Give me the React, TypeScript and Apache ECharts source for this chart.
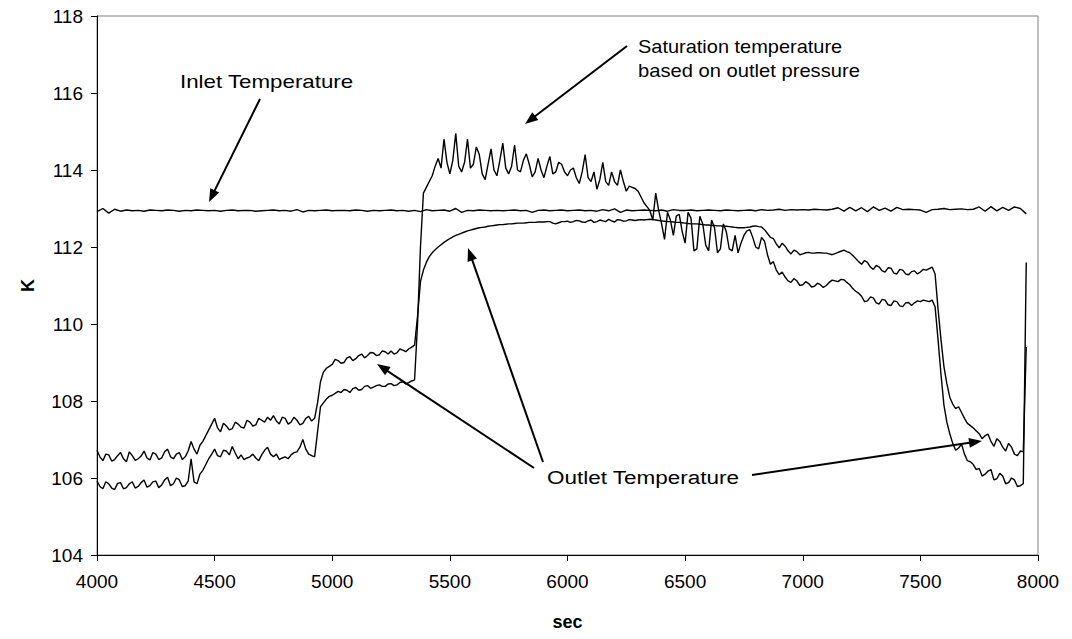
import React, { useEffect, useRef } from "react";
import * as echarts from "echarts";

// Sampling grid of the recorded traces (seconds): main samples every 25 s
// from 4000 s, plus intermediate samples half-way between them.
const T_START = 4000;
const T_STEP = 25;

const xTicks = { min: 4000, max: 8000, interval: 500 };
const yTicks = { min: 104, max: 118, interval: 2 };

// Inlet temperature (K), one value every 25 s from 4000 s to 7950 s
const inletTemp = [
  112.92, 113.0, 112.88, 112.98, 112.93, 112.96, 112.94, 112.95, 112.93, 112.96,
  112.95, 112.94, 112.96, 112.95, 112.93, 112.95, 112.94, 112.96, 112.95, 112.94,
  112.95, 112.93, 112.95, 112.96, 112.94, 112.95, 112.95, 112.93, 112.94, 112.95,
  112.96, 112.94, 112.95, 112.93, 112.97, 112.91, 112.95, 112.94, 112.95, 112.96,
  112.94, 112.95, 112.95, 112.94, 112.96, 112.95, 112.93, 112.95, 112.94, 112.95,
  112.96, 112.94, 112.95, 112.93, 112.95, 112.92, 112.97, 112.94, 112.95, 112.96,
  112.93, 113.0, 112.9, 112.95, 112.94, 112.96, 112.95, 112.94, 112.95, 112.94,
  112.95, 112.96, 112.94, 112.95, 112.9, 112.95, 112.96, 112.94, 112.95, 112.96,
  112.94, 112.95, 112.96, 112.94, 112.95, 112.93, 112.97, 112.94, 112.99, 112.9,
  112.96, 112.94, 112.95, 112.96, 112.95, 112.94, 112.96, 112.93, 112.97, 112.95,
  112.95, 112.96, 112.94, 112.95, 112.96, 112.95, 112.94, 112.96, 112.95, 112.94,
  112.95, 112.96, 112.94, 112.97, 112.95, 112.96, 112.98, 112.95, 112.97, 112.96,
  112.97, 112.96, 112.98, 112.97, 112.96, 112.98, 113.02, 112.93, 113.03, 112.94,
  113.02, 112.92, 113.04, 112.95, 113.01, 112.93, 113.03, 112.97, 112.98, 112.97,
  112.96, 112.9, 112.97, 112.98, 113.0, 112.97, 112.98, 112.99, 112.97, 112.98,
  113.04, 112.93, 113.05, 112.94, 113.03, 112.95, 113.04, 113.0, 112.86,
];

// Outlet temperature (K), at 4000, 4025, ... 7950 s
const outletTemp = [
  106.72, 106.45, 106.6, 106.48, 106.66, 106.42, 106.58, 106.5, 106.7, 106.47,
  106.62, 106.52, 106.75, 106.5, 106.66, 106.55, 106.95, 106.62, 106.95, 107.25,
  107.55, 107.2, 107.35, 107.28, 107.4, 107.3, 107.45, 107.38, 107.5, 107.58,
  107.62, 107.4, 107.55, 107.45, 107.5, 107.42, 107.6, 107.55, 108.5, 108.85,
  108.95, 109.05, 109.0, 109.15, 109.1, 109.22, 109.18, 109.25, 109.2, 109.28,
  109.3, 109.25, 109.32, 109.35, 109.45, 111.1, 111.6, 111.85, 112.0, 112.12,
  112.22, 112.3, 112.36, 112.42, 112.46, 112.5, 112.52, 112.55, 112.57, 112.58,
  112.6, 112.61, 112.62, 112.63, 112.64, 112.65, 112.65, 112.66, 112.6, 112.66,
  112.67, 112.66, 112.68, 112.64, 112.7, 112.66, 112.68, 112.72, 112.65, 112.7,
  112.68, 112.7, 112.7, 112.7, 112.72, 112.7, 112.68, 112.66, 112.65, 112.64,
  112.62, 112.6, 112.6, 112.58, 112.57, 112.56, 112.55, 112.54, 112.52, 112.5,
  112.5, 112.52, 112.55, 112.52, 112.35, 112.22, 111.98, 112.02, 111.82, 111.88,
  111.82, 111.86, 111.84, 111.85, 111.84, 111.8, 111.86, 111.92, 111.85, 111.7,
  111.55, 111.6, 111.42, 111.48, 111.35, 111.45, 111.3, 111.4, 111.28, 111.38,
  111.35, 111.4, 111.48, 110.4, 108.9, 108.1, 107.8, 107.7, 107.42, 107.3,
  107.15, 107.1, 106.95, 107.02, 106.8, 106.9, 106.62, 106.7, 109.4,
];
// Outlet temperature (K), at 4012.5, 4037.5, ... 7937.5 s
const outletTempMid = [
  106.55, 106.62, 106.44, 106.58, 106.5, 106.68, 106.46, 106.57, 106.52, 106.66,
  106.48, 106.68, 106.55, 106.62, 106.48, 106.7, 106.75, 106.85, 107.1, 107.4,
  107.3, 107.42, 107.25, 107.45, 107.32, 107.5, 107.35, 107.55, 107.45, 107.5,
  107.48, 107.58, 107.4, 107.58, 107.38, 107.55, 107.48, 107.95, 108.75, 108.9,
  109.08, 108.98, 109.12, 109.05, 109.18, 109.12, 109.26, 109.18, 109.3, 109.22,
  109.22, 109.35, 109.28, 109.4, 110.2, 111.4, 111.75, 111.93, 112.06, 112.17,
  112.26, 112.33, 112.39, 112.44, 112.48, 112.51, 112.54, 112.56, 112.58, 112.59,
  112.6, 112.62, 112.62, 112.64, 112.64, 112.65, 112.66, 112.62, 112.63, 112.66,
  112.64, 112.69, 112.65, 112.68, 112.64, 112.7, 112.66, 112.68, 112.71, 112.67,
  112.71, 112.69, 112.71, 112.71, 112.71, 112.69, 112.67, 112.66, 112.64, 112.63,
  112.61, 112.6, 112.59, 112.57, 112.56, 112.55, 112.54, 112.53, 112.51, 112.5,
  112.51, 112.54, 112.53, 112.45, 112.25, 112.08, 112.1, 111.9, 111.92, 111.8,
  111.85, 111.84, 111.85, 111.84, 111.82, 111.83, 111.89, 111.88, 111.78, 111.62,
  111.65, 111.48, 111.52, 111.38, 111.46, 111.32, 111.42, 111.3, 111.36, 111.3,
  111.42, 111.44, 111.3, 109.6, 108.45, 107.92, 107.85, 107.55, 107.36, 107.22,
  107.02, 107.14, 106.82, 106.95, 106.7, 106.8, 106.58, 106.68,
];

// Saturation temperature based on outlet pressure (K), at 4000, 4025, ... 7950 s
const saturationTemp = [
  105.92, 105.72, 105.85, 105.7, 105.88, 105.75, 105.9, 105.78, 105.95, 105.8,
  105.92, 105.82, 106.02, 105.85, 105.95, 105.8, 106.5, 105.85, 106.2, 106.5,
  106.75, 106.55, 106.7, 106.82, 106.5, 106.48, 106.55, 106.52, 106.6, 106.8,
  106.55, 106.48, 106.55, 106.6, 106.68, 107.0, 106.62, 106.55, 107.85, 108.05,
  108.15, 108.25, 108.3, 108.22, 108.35, 108.3, 108.4, 108.36, 108.42, 108.38,
  108.45, 108.42, 108.5, 108.48, 108.55, 112.0, 113.55, 113.85, 114.3, 114.8,
  113.9, 114.95, 113.95, 114.8, 114.15, 114.4, 113.75, 114.55, 113.85, 114.7,
  113.9, 114.65, 113.95, 114.42, 113.82, 114.3, 113.8, 114.35, 113.95, 114.15,
  113.85, 114.05, 113.65, 114.4, 113.7, 113.5, 114.2, 113.6, 113.7, 114.0,
  113.45, 113.55, 113.45, 113.15, 112.95, 113.4, 112.6, 112.9, 112.3, 112.85,
  112.1, 112.75, 111.95, 112.6, 111.9, 112.5, 111.95, 112.4, 111.9, 111.85,
  112.3, 112.45, 112.0, 112.25, 111.8, 111.62, 111.28, 111.22, 111.08, 111.12,
  111.02, 111.05, 110.98, 111.02, 111.0, 111.14, 111.1, 111.15, 111.02, 110.85,
  110.72, 110.6, 110.68, 110.52, 110.62, 110.48, 110.58, 110.45, 110.56, 110.55,
  110.58, 110.6, 110.62, 109.6, 107.9, 107.15, 106.72, 106.88, 106.45, 106.35,
  106.25, 106.1, 106.22, 105.98, 106.05, 105.88, 105.95, 105.8, 111.6,
];
// Saturation temperature (K), at 4012.5, 4037.5, ... 7937.5 s
const saturationTempMid = [
  105.78, 105.9, 105.74, 105.86, 105.72, 105.85, 105.74, 105.88, 105.76, 105.9,
  105.75, 105.95, 105.8, 106.0, 105.78, 105.92, 105.9, 106.1, 106.35, 106.62,
  106.58, 106.72, 106.6, 106.65, 106.6, 106.52, 106.62, 106.45, 106.72, 106.62,
  106.62, 106.52, 106.5, 106.66, 106.8, 106.75, 106.58, 107.2, 107.95, 108.12,
  108.2, 108.22, 108.28, 108.32, 108.28, 108.38, 108.33, 108.4, 108.38, 108.44,
  108.4, 108.48, 108.44, 108.52, 110.0, 113.4, 113.7, 114.1, 114.05, 114.2,
  114.25, 114.1, 114.2, 114.05, 114.6, 113.9, 114.15, 114.0, 114.25, 114.05,
  114.1, 114.0, 114.25, 114.15, 113.95, 114.0, 114.1, 113.9, 114.2, 113.95,
  114.0, 113.8, 113.95, 113.8, 113.95, 113.75, 113.7, 113.95, 113.6, 113.7,
  113.58, 113.52, 113.3, 113.05, 112.7, 112.95, 112.2, 112.7, 112.8, 112.4,
  112.9, 111.9, 112.8, 112.05, 112.7, 111.85, 112.6, 111.95, 112.3, 112.1,
  112.42, 112.25, 111.95, 112.15, 111.55, 111.4, 111.35, 111.12, 111.18, 111.0,
  111.1, 110.96, 111.06, 110.95, 111.08, 111.12, 111.16, 111.08, 110.92, 110.8,
  110.58, 110.7, 110.55, 110.64, 110.5, 110.6, 110.47, 110.55, 110.48, 110.6,
  110.62, 110.58, 110.45, 108.7, 107.45, 106.9, 106.78, 106.62, 106.42, 106.22,
  106.05, 106.18, 105.95, 106.12, 105.85, 106.0, 105.78, 105.85,
];

const FONT = '"Liberation Sans", Arial, Helvetica, sans-serif';

function toPairs(vals: number[], mids?: number[]) {
  const out: number[][] = [];
  vals.forEach((v, i) => {
    const t = T_START + i * T_STEP;
    out.push([t, v]);
    if (mids && i < mids.length) out.push([t + T_STEP / 2, mids[i]]);
  });
  return out;
}

function arrow(x1: number, y1: number, x2: number, y2: number) {
  const ang = Math.atan2(y2 - y1, x2 - x1);
  const L = 13;
  const W = 5;
  const c = Math.cos(ang);
  const s = Math.sin(ang);
  const bx = x2 - L * c;
  const by = y2 - L * s;
  return [
    {
      type: "line",
      shape: { x1, y1, x2: bx + 2 * c, y2: by + 2 * s },
      style: { stroke: "#000", lineWidth: 2 },
      silent: true,
    },
    {
      type: "polygon",
      shape: {
        points: [
          [x2, y2],
          [bx - W * s, by + W * c],
          [bx + W * s, by - W * c],
        ],
      },
      style: { fill: "#000" },
      silent: true,
    },
  ];
}

function label(text: string, x: number, y: number, stretch: number) {
  return {
    type: "text",
    x,
    y,
    scaleX: stretch,
    silent: true,
    style: {
      text,
      fill: "#000",
      fontSize: 18,
      fontFamily: FONT,
      verticalAlign: "middle",
      align: "left",
    },
  };
}

export default function App() {
  const ref = useRef<HTMLDivElement>(null);

  useEffect(() => {
    if (!ref.current) return;
    const chart = echarts.init(ref.current, null, { renderer: "svg" });
    const lineStyle = { color: "#000", width: 1.4 };
    const mkSeries = (name: string, vals: number[], mids?: number[]) => ({
      name,
      type: "line",
      data: toPairs(vals, mids),
      showSymbol: false,
      symbol: "none",
      lineStyle,
      itemStyle: { color: "#000" },
      silent: true,
    });
    chart.setOption({
      animation: false,
      backgroundColor: "#fff",
      textStyle: { fontFamily: FONT },
      grid: {
        left: 97,
        right: 34,
        top: 16,
        bottom: 84,
        show: true,
        borderColor: "#808080",
        borderWidth: 1,
        backgroundColor: "transparent",
      },
      xAxis: {
        type: "value",
        min: xTicks.min,
        max: xTicks.max,
        interval: xTicks.interval,
        name: "sec",
        nameLocation: "middle",
        nameGap: 58,
        nameTextStyle: { fontSize: 18, fontWeight: "bold", color: "#000", fontFamily: FONT },
        axisLine: { show: true, onZero: false, lineStyle: { color: "#000", width: 1 } },
        axisTick: { show: true, inside: false, length: 6, lineStyle: { color: "#000" } },
        axisLabel: {
          fontSize: 19,
          color: "#000",
          margin: 17,
          fontFamily: FONT,
          formatter: (v: number) => String(v),
        },
        splitLine: { show: false },
      },
      yAxis: {
        type: "value",
        min: yTicks.min,
        max: yTicks.max,
        interval: yTicks.interval,
        name: "K",
        nameLocation: "middle",
        nameRotate: 90,
        nameGap: 60,
        nameTextStyle: { fontSize: 18, fontWeight: "bold", color: "#000", fontFamily: FONT },
        axisLine: { show: true, onZero: false, lineStyle: { color: "#000", width: 1 } },
        axisTick: { show: true, inside: false, length: 6, lineStyle: { color: "#000" } },
        axisLabel: {
          fontSize: 19,
          color: "#000",
          margin: 14,
          fontFamily: FONT,
          formatter: (v: number) => String(v),
        },
        splitLine: { show: false },
      },
      series: [
        mkSeries("Inlet Temperature", inletTemp),
        mkSeries("Outlet Temperature", outletTemp, outletTempMid),
        mkSeries(
          "Saturation temperature based on outlet pressure",
          saturationTemp,
          saturationTempMid
        ),
      ],
      graphic: [
        label("Inlet Temperature", 180, 82, 1.24),
        ...arrow(260, 99, 209, 202),
        label("Saturation temperature", 638, 47, 1.11),
        label("based on outlet pressure", 638, 71, 1.12),
        ...arrow(627, 46, 525, 124),
        label("Outlet Temperature", 547, 478, 1.25),
        ...arrow(534, 468, 377, 364),
        ...arrow(543, 462, 468, 248),
        ...arrow(752, 475, 982, 441),
      ],
    });
    return () => chart.dispose();
  }, []);

  return (
    <div
      ref={ref}
      style={{ position: "absolute", left: 0, top: 0, width: 1072, height: 639, background: "#fff" }}
    />
  );
}
